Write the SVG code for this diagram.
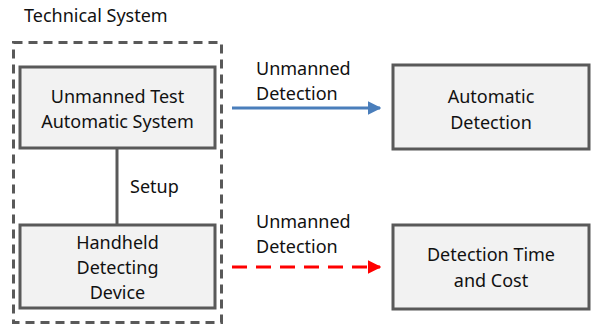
<svg xmlns="http://www.w3.org/2000/svg" width="591" height="329" viewBox="0 0 591 329">
<defs>
<style>
text{font-family:"Noto Sans","Liberation Sans",sans-serif;font-size:18px;fill:#111;}
.c{text-anchor:middle;}
.box{fill:#f2f2f2;stroke:#595959;stroke-width:3;}
</style>
<marker id="ab" viewBox="0 0 10 10" refX="9" refY="5" markerWidth="4.5" markerHeight="4.5" orient="auto" markerUnits="strokeWidth"><path d="M0,0 L10,5 L0,10 z" fill="#4a7ebb"/></marker>
<marker id="ar" viewBox="0 0 10 10" refX="9" refY="5" markerWidth="4.5" markerHeight="4.5" orient="auto" markerUnits="strokeWidth"><path d="M0,0 L10,5 L0,10 z" fill="#ff0000"/></marker>
</defs>
<rect width="591" height="329" fill="#fff"/>
<g id="technical-system">
<text x="24" y="22">Technical System</text>
<rect x="13.5" y="42.5" width="208" height="280" fill="none" stroke="#595959" stroke-width="3" stroke-dasharray="9,6"/>
</g>
<g id="connectors">
<line x1="117" y1="148" x2="117" y2="225" stroke="#595959" stroke-width="3"/>
<text x="130" y="193">Setup</text>
<line x1="232" y1="108" x2="380" y2="108" stroke="#4a7ebb" stroke-width="3" marker-end="url(#ab)"/>
<text x="256" y="75">Unmanned</text>
<text x="256" y="100">Detection</text>
<line x1="232" y1="267" x2="380" y2="267" stroke="#ff0000" stroke-width="3" stroke-dasharray="15,9" marker-end="url(#ar)"/>
<text x="256" y="228">Unmanned</text>
<text x="256" y="253">Detection</text>
</g>
<g id="unmanned-test">
<rect class="box" x="20" y="67" width="195" height="81"/>
<text class="c" x="117.5" y="103">Unmanned Test</text>
<text class="c" x="117.5" y="128">Automatic System</text>
</g>
<g id="handheld">
<rect class="box" x="20" y="225" width="195" height="83"/>
<text class="c" x="117.5" y="249">Handheld</text>
<text class="c" x="117.5" y="274">Detecting</text>
<text class="c" x="117.5" y="299">Device</text>
</g>
<g id="automatic-detection">
<rect class="box" x="393" y="65" width="196" height="84"/>
<text class="c" x="491" y="103">Automatic</text>
<text class="c" x="491" y="129">Detection</text>
</g>
<g id="detection-time">
<rect class="box" x="393" y="225" width="196" height="84"/>
<text class="c" x="491" y="261">Detection Time</text>
<text class="c" x="491" y="287">and Cost</text>
</g>
</svg>
